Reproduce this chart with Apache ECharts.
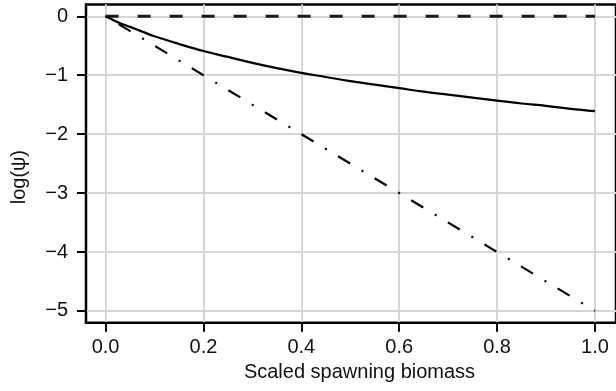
<!DOCTYPE html>
<html>
<head>
<meta charset="utf-8">
<script src="https://cdn.jsdelivr.net/npm/echarts@6/dist/echarts.min.js"></script>
<style>
html,body{margin:0;padding:0;background:#fff;}
#chart{width:616px;height:391px;}
</style>
</head>
<body>
<div id="chart"></div>
<script>
// Data
var xTicks = [0, 0.2, 0.4, 0.6, 0.8, 1.0];
var yTicks = [0, -1, -2, -3, -4, -5];

var flatX = [0, 1.0];
var flatY = [0, 0];

var curveX = [0, 0.025, 0.05, 0.075, 0.1, 0.15, 0.2, 0.25, 0.3, 0.35, 0.4, 0.45, 0.5, 0.55, 0.6, 0.65, 0.7, 0.75, 0.8, 0.85, 0.9, 0.95, 1.0];
var curveY = [0, -0.10, -0.18, -0.26, -0.34, -0.47, -0.59, -0.69, -0.79, -0.88, -0.96, -1.03, -1.10, -1.16, -1.22, -1.28, -1.33, -1.38, -1.43, -1.48, -1.52, -1.57, -1.61];

var lineX = [0, 0.2, 0.4, 0.6, 0.8, 1.0];
var lineY = [0, -1, -2, -3, -4, -5];

function zip(a, b) { return a.map(function (v, i) { return [v, b[i]]; }); }

var FONT = '"Liberation Sans", Arial, Helvetica, sans-serif';
var chart = echarts.init(document.getElementById('chart'), null, {renderer: 'canvas'});
chart.setOption({
  animation: false,
  backgroundColor: '#ffffff',
  grid: {
    left: 86, right: -4, top: 4.5, bottom: 68.3,
    show: true, borderColor: '#000', borderWidth: 2.5, backgroundColor: 'transparent',
    containLabel: false
  },
  xAxis: {
    type: 'value', min: -0.04, max: 1.043,
    name: 'Scaled spawning biomass', nameLocation: 'middle', nameGap: 40,
    nameTextStyle: {fontFamily: FONT, fontSize: 20, color: '#111', padding: [0, 0, 0, 17]},
    axisLine: {show: true, onZero: false, lineStyle: {color: '#000', width: 2}},
    axisTick: {show: true, length: 9, customValues: xTicks, lineStyle: {color: '#000', width: 2}},
    axisLabel: {customValues: xTicks, margin: 15, fontFamily: FONT, fontSize: 20, color: '#111',
      formatter: function (v) { return v.toFixed(1); }},
    splitLine: {show: true, lineStyle: {color: '#d6d6d6', width: 2}}
  },
  yAxis: {
    type: 'value', min: -5.2, max: 0.2,
    name: 'log(\u03c8)', nameLocation: 'middle', nameGap: 57,
    nameTextStyle: {fontFamily: FONT, fontSize: 20, color: '#111', padding: [0, 27, 0, 0]},
    axisLine: {show: true, onZero: false, lineStyle: {color: '#000', width: 2}},
    axisTick: {show: true, length: 9, customValues: yTicks, lineStyle: {color: '#000', width: 2}},
    axisLabel: {customValues: yTicks, margin: 18, fontFamily: FONT, fontSize: 20, color: '#111',
      formatter: function (v) { return String(v).replace('-', '\u2212'); }},
    splitLine: {show: true, lineStyle: {color: '#d6d6d6', width: 2}}
  },
  series: [
    {
      type: 'line', data: zip(flatX, flatY), showSymbol: false, symbol: 'none',
      lineStyle: {color: '#1a1a1a', width: 3, type: [13, 19], cap: 'butt'}
    },
    {
      type: 'line', data: zip(curveX, curveY), showSymbol: false, symbol: 'none', smooth: 0.4,
      lineStyle: {color: '#000', width: 2.2, type: 'solid'}
    },
    {
      type: 'line', data: zip(lineX, lineY), showSymbol: false, symbol: 'none',
      lineStyle: {color: '#000', width: 2.2, type: [2, 13.2, 14, 13.5], cap: 'butt'}
    }
  ]
});
</script>
</body>
</html>
